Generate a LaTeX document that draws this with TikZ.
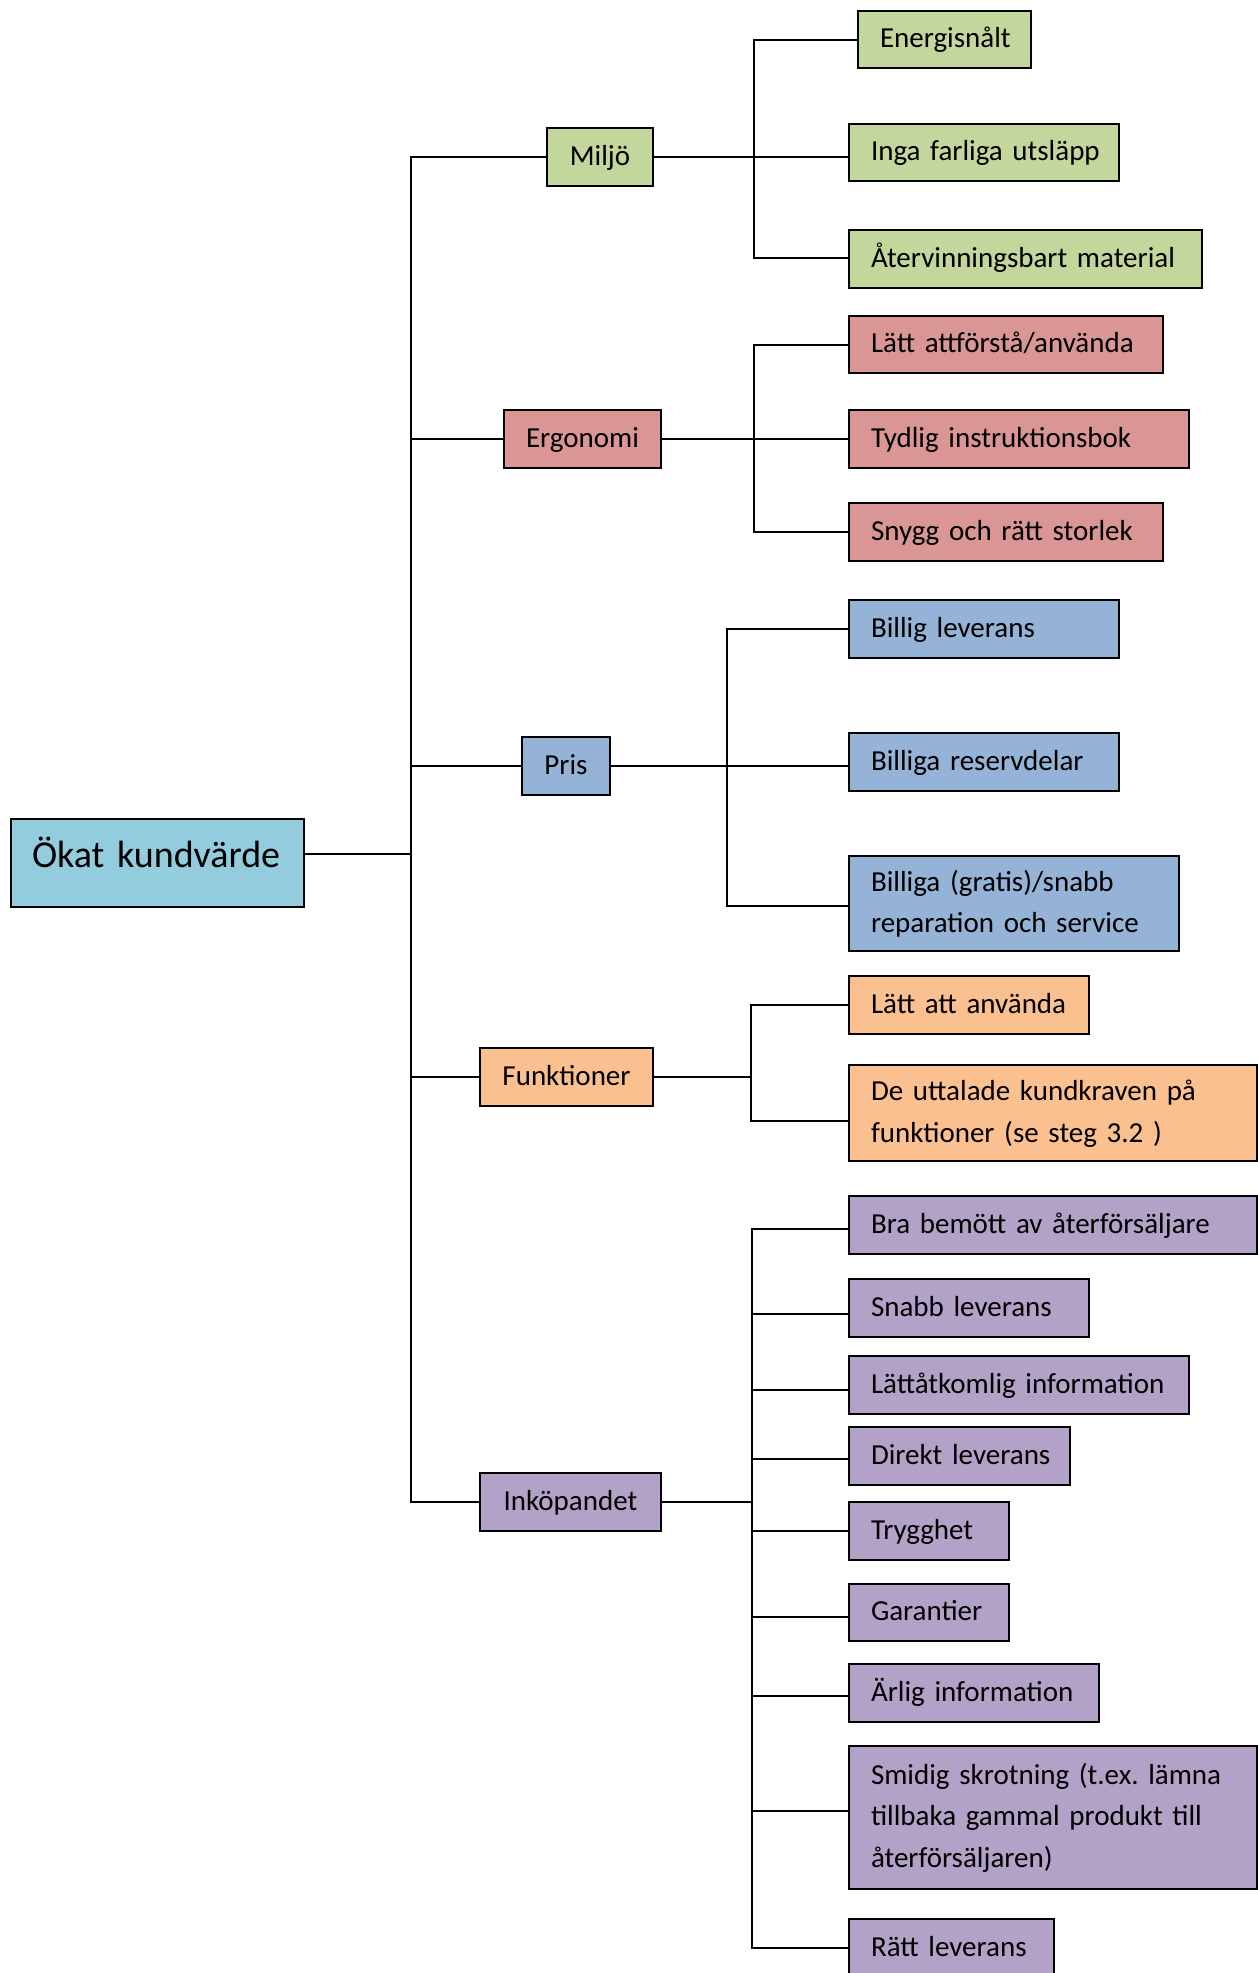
\documentclass[tikz,border=0pt]{standalone}
\usepackage{fontspec}
\setmainfont{Carlito}
\frenchspacing
\definecolor{grn}{HTML}{C3D69B}
\definecolor{red}{HTML}{D99694}
\definecolor{blu}{HTML}{95B3D7}
\definecolor{org}{HTML}{FAC090}
\definecolor{pur}{HTML}{B3A2C7}
\definecolor{aqu}{HTML}{93CDDD}
\begin{document}
\begin{tikzpicture}[x=1pt,y=-1pt,
  box/.style={draw=black, line width=2pt, inner ysep=0pt, anchor=north west,
    font=\fontsize{29}{41.5}\selectfont\frenchspacing,
    execute at begin node=\strut, execute at end node=\strut},
  leaf/.style={box, inner xsep=22pt, align=left, minimum height=58pt},
  cat/.style={box, inner xsep=0pt, align=center, minimum height=58pt},
  rootbox/.style={draw=black, line width=2pt, anchor=north west, fill=aqu,
    inner xsep=21pt, inner ysep=0pt, text width=251pt, align=left,
    minimum height=88pt,
    font=\fontsize{38}{44}\selectfont, text height=27pt, text depth=19pt},
  conn/.style={line width=2pt, line cap=rect}]
\useasboundingbox (0,0) rectangle (1258,1973);

% root and categories
\node[rootbox] (root) at (10,818) {\mbox{Ökat kundvärde}};
\node[cat, fill=grn, minimum width=106pt] (miljo) at (546,127) {Miljö};
\node[cat, fill=red, minimum width=157pt] (ergo) at (503,409) {Ergonomi};
\node[cat, fill=blu, minimum width=88pt] (pris) at (521,736) {Pris};
\node[cat, fill=org, minimum width=173pt] (funk) at (479,1047) {Funktioner};
\node[cat, fill=pur, minimum width=181pt] (ink) at (479,1472) {Inköpandet};

% Miljö leaves
\node[leaf, fill=grn, text width=129pt, minimum height=57pt] (energi) at (857,10) {\mbox{Energisnålt}};
\node[leaf, fill=grn, text width=226pt, minimum height=57pt] (inga) at (848,123) {\mbox{Inga farliga utsläpp}};
\node[leaf, fill=grn, text width=309pt] (aterv) at (848,229) {\mbox{Återvinningsbart material}};

% Ergonomi leaves
\node[leaf, fill=red, text width=270pt, minimum height=57pt] (forsta) at (848,315) {\mbox{Lätt attförstå/använda}};
\node[leaf, fill=red, text width=296pt] (tydlig) at (848,409) {\mbox{Tydlig instruktionsbok}};
\node[leaf, fill=red, text width=270pt] (snygg) at (848,502) {\mbox{Snygg och rätt storlek}};

% Pris leaves
\node[leaf, fill=blu, text width=226pt] (billev) at (848,599) {\mbox{Billig leverans}};
\node[leaf, fill=blu, text width=226pt] (bilres) at (848,732) {\mbox{Billiga reservdelar}};
\node[leaf, fill=blu, text width=286pt, minimum height=95pt] (bilrep) at (848,855) {\mbox{Billiga (gratis)/snabb}\\\mbox{reparation och service}};

% Funktioner leaves
\node[leaf, fill=org, text width=196pt] (lattanv) at (848,975) {\mbox{Lätt att använda}};
\node[leaf, fill=org, text width=364pt, minimum height=96pt] (uttal) at (848,1064) {\mbox{De uttalade kundkraven på}\\\mbox{funktioner (se steg 3.2~)}};

% Inköpandet leaves
\node[leaf, fill=pur, text width=364pt] (bra) at (848,1195) {\mbox{Bra bemött av återförsäljare}};
\node[leaf, fill=pur, text width=196pt] (snabb) at (848,1278) {\mbox{Snabb leverans}};
\node[leaf, fill=pur, text width=296pt] (lattat) at (848,1355) {\mbox{Lättåtkomlig information}};
\node[leaf, fill=pur, text width=177pt] (direkt) at (848,1426) {\mbox{Direkt leverans}};
\node[leaf, fill=pur, text width=116pt] (trygg) at (848,1501) {\mbox{Trygghet}};
\node[leaf, fill=pur, text width=116pt, minimum height=57pt] (garant) at (848,1583) {\mbox{Garantier}};
\node[leaf, fill=pur, text width=206pt] (arlig) at (848,1663) {\mbox{Ärlig information}};
\node[leaf, fill=pur, text width=364pt, minimum height=143pt] (smidig) at (848,1745) {\mbox{Smidig skrotning (t.ex. lämna}\\\mbox{tillbaka gammal produkt till}\\\mbox{återförsäljaren)}};
\node[leaf, fill=pur, text width=161pt] (ratt) at (848,1918) {\mbox{Rätt leverans}};

% branch points
\coordinate (tr) at (411,854);
\coordinate (bm) at (754,157);
\coordinate (be) at (754,438);
\coordinate (bp) at (727,764);
\coordinate (bf) at (751,1076);
\coordinate (bi) at (752,1501);

% main trunk
\draw[conn] (root.east |- tr) -- (tr);
\draw[conn] (miljo.west) -| (tr) |- (ink.west);
\draw[conn] (ergo.west) -- (ergo.west -| tr);
\draw[conn] (pris.west) -- (pris.west -| tr);
\draw[conn] (funk.west) -- (funk.west -| tr);

% Miljö branch
\draw[conn] (miljo.east) -- (inga.west |- miljo.east);
\draw[conn] (energi.west) -| (bm) |- ([yshift=1pt]aterv.west);

% Ergonomi branch
\draw[conn] (ergo.east) -- (tydlig.west);
\draw[conn] (forsta.west) -| (be) |- (snygg.west);

% Pris branch
\draw[conn] (pris.east) -- (bilres.west |- pris.east);
\draw[conn] (billev.west) -| (bp) |- ([yshift=-2pt]bilrep.west);

% Funktioner branch
\draw[conn] (funk.east) -- (funk.east -| bf);
\draw[conn] (lattanv.west) -| (bf) |- ([yshift=-8pt]uttal.west);

% Inköpandet branch
\draw[conn] (ink.east) -- (ink.east -| bi);
\draw[conn] ([yshift=-4pt]bra.west) -| (bi) |- (ratt.west);
\draw[conn] ([yshift=-6pt]snabb.west) -- ([yshift=-6pt]snabb.west -| bi);
\draw[conn] ([yshift=-5pt]lattat.west) -- ([yshift=-5pt]lattat.west -| bi);
\draw[conn] ([yshift=-3pt]direkt.west) -- ([yshift=-3pt]direkt.west -| bi);
\draw[conn] (trygg.west) -- (trygg.west -| bi);
\draw[conn] ([yshift=-4pt]garant.west) -- ([yshift=-4pt]garant.west -| bi);
\draw[conn] ([yshift=-3pt]arlig.west) -- ([yshift=-3pt]arlig.west -| bi);
\draw[conn] ([yshift=7pt]smidig.west) -- ([yshift=7pt]smidig.west -| bi);
\end{tikzpicture}
\end{document}
